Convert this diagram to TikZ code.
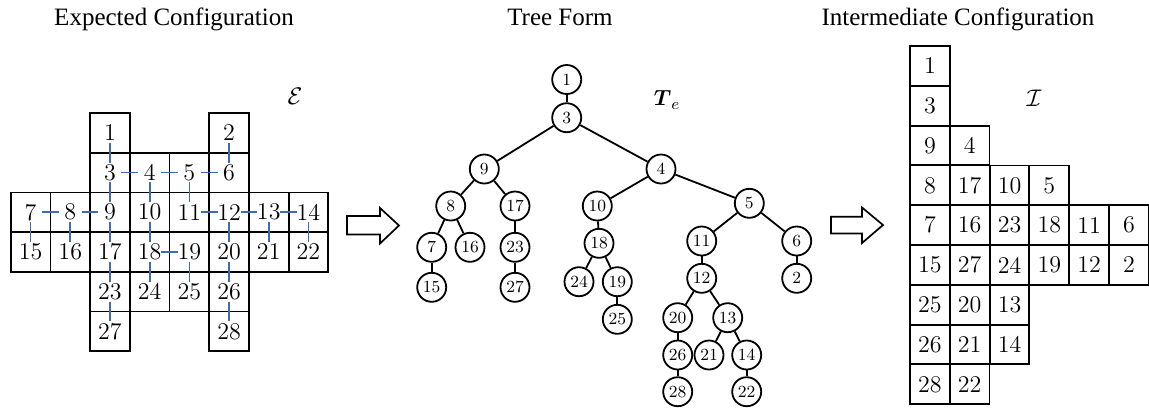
\documentclass[tikz,border=0pt]{standalone}
\usepackage{fontspec}
\usepackage{amsmath}
\newfontfamily\titlefont{Liberation Serif}
\usetikzlibrary{calc}
\definecolor{linkblue}{RGB}{62,106,184}
\tikzset{
  cellbox/.style={draw, line width=0.9pt, minimum size=19.85pt, inner sep=0pt, font=\fontsize{12}{14}\selectfont},
  treenode/.style={draw, circle, line width=0.9pt, minimum size=14.5pt, inner sep=0pt, font=\fontsize{8.5}{10}\selectfont},
  treeedge/.style={line width=0.9pt},
  bluelink/.style={line width=0.85pt, draw=linkblue},
  hollowarrow/.style={draw, line width=0.85pt, line join=miter, fill=white},
  titletext/.style={font=\titlefont\fontsize{12.5}{15}\selectfont, anchor=base, inner sep=0pt},
}
\begin{document}
\begin{tikzpicture}[x=0.5pt,y=-0.5pt]
\useasboundingbox (0,0) rectangle (1149,409);
% titles
\node[titletext] (t1) at (174,25) {Expected Configuration};
\node[titletext] (t2) at (560,25) {Tree Form};
\node[titletext] (t3) at (958,25) {Intermediate Configuration};
% labels
\node (lE) at (295,96) {\fontsize{13}{15}\selectfont$\mathcal{E}$};
\node (lT) at (667,100) {\fontsize{11}{13}\selectfont$\boldsymbol{T}_e$};
\node (lI) at (1034,98) {\fontsize{13}{15}\selectfont$\mathcal{I}$};
% left grid
\foreach \r/\c/\n in {0/2/1,0/5/2,1/2/3,1/3/4,1/4/5,1/5/6,
  2/0/7,2/1/8,2/2/9,2/3/10,2/4/11,2/5/12,2/6/13,2/7/14,
  3/0/15,3/1/16,3/2/17,3/3/18,3/4/19,3/5/20,3/6/21,3/7/22,
  4/2/23,4/3/24,4/4/25,4/5/26,5/2/27,5/5/28}
  \node[cellbox] (L\n) at ({10.7+39.7*(\c+0.5)},{113+39.7*(\r+0.5)}) {\n};
\foreach \a/\b in {1/3,2/6,3/9,4/10,5/11,7/15,8/16,9/17,10/18,12/20,13/21,14/22,17/23,18/24,19/25,20/26,23/27,26/28}
  \draw[bluelink] ($(L\a)!0.25!(L\b)$) -- ($(L\a)!0.75!(L\b)$);
\foreach \a/\b in {3/4,4/5,5/6,7/8,8/9,11/12,12/13,13/14,18/19}
  \draw[bluelink] ($(L\a)!0.29!(L\b)$) -- ($(L\a)!0.71!(L\b)$);
% arrows
\draw[hollowarrow] (347,216) -- (380,216) -- (380,208) -- (399,225.5) -- (380,243.5) -- (380,234.5) -- (347,234.5) -- cycle;
\draw[hollowarrow] (831,216.7) -- (862,216.7) -- (862,207.5) -- (883,225) -- (862,243) -- (862,233.5) -- (831,233.5) -- cycle;
% tree
\foreach \n/\x/\y in {1/566.7/79.5, 3/566.7/117.7, 9/484.3/169, 4/661/169,
  8/450.7/206, 17/515/206, 10/597.3/206, 5/749.3/203.3,
  7/431.7/247.3, 16/470/247.3, 23/515/247.3, 18/599/243.3, 11/701.7/241, 6/796.7/241,
  15/431.7/287.3, 27/515/287.3, 24/579/281.7, 19/617.3/281.7, 12/701.7/278.3, 2/796.7/278.3,
  25/617.3/319.3, 20/677.7/317.7, 13/727.7/317.7,
  26/677.7/355, 21/709/355, 14/746.7/355,
  28/677.7/391.7, 22/746.7/391.7}
  \node[treenode] (T\n) at (\x,\y) {\n};
\foreach \a/\b in {1/3,3/9,3/4,9/8,9/17,8/7,8/16,7/15,17/23,23/27,4/10,4/5,10/18,18/24,18/19,19/25,
  5/11,5/6,11/12,6/2,12/20,12/13,20/26,26/28,13/21,13/14,14/22}
  \draw[treeedge] (T\a) -- (T\b);
% right grid
\foreach \r/\c/\n in {0/0/1,1/0/3,2/0/9,2/1/4,3/0/8,3/1/17,3/2/10,3/3/5,
  4/0/7,4/1/16,4/2/23,4/3/18,4/4/11,4/5/6,
  5/0/15,5/1/27,5/2/24,5/3/19,5/4/12,5/5/2,
  6/0/25,6/1/20,6/2/13,7/0/26,7/1/21,7/2/14,8/0/28,8/1/22}
  \node[cellbox] (R\n) at ({910+39.8*(\c+0.5)},{46+39.8*(\r+0.5)}) {\n};
\end{tikzpicture}
\end{document}
